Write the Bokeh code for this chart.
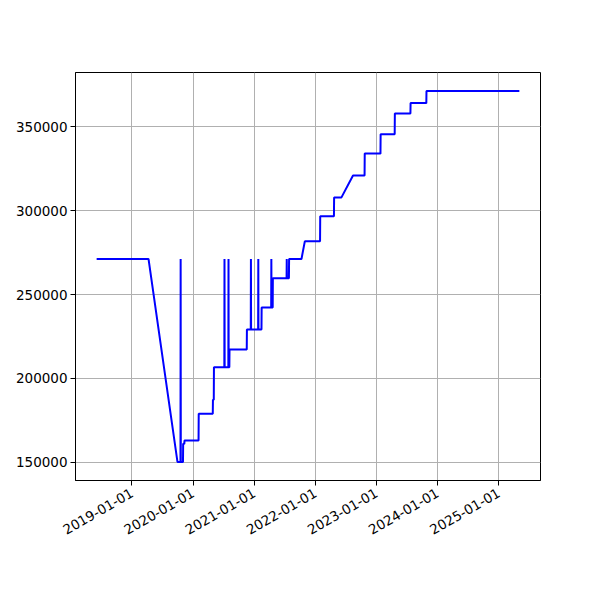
import math
import pandas as pd
from bokeh.plotting import figure
from bokeh.models import Range1d, FixedTicker, DatetimeTickFormatter, BasicTickFormatter, ColumnDataSource
from bokeh.embed import file_html
from bokeh.resources import INLINE

# ---- data ----
dates = [
    "2018-06-04", "2019-04-10", "2019-09-30", "2019-10-18", "2019-10-19", "2019-10-20",
    "2019-11-02", "2019-11-03", "2019-11-10", "2019-11-11", "2020-02-03", "2020-02-04",
    "2020-04-28", "2020-04-29", "2020-05-04", "2020-05-05", "2020-07-06", "2020-07-07",
    "2020-07-08", "2020-07-30", "2020-07-31", "2020-08-01", "2020-08-05", "2020-08-06",
    "2020-11-17", "2020-11-18", "2020-12-11", "2020-12-12", "2020-12-13", "2021-01-24",
    "2021-01-25", "2021-01-26", "2021-02-13", "2021-02-14", "2021-04-12", "2021-04-13",
    "2021-04-14", "2021-04-21", "2021-04-22", "2021-07-13", "2021-07-14", "2021-07-15",
    "2021-07-27", "2021-07-28", "2021-10-10", "2021-10-30", "2022-01-29", "2022-01-30",
    "2022-04-22", "2022-04-23", "2022-06-06", "2022-08-14", "2022-10-22", "2022-10-23",
    "2023-01-25", "2023-01-26", "2023-04-20", "2023-04-21", "2023-07-23", "2023-07-24",
    "2023-10-26", "2023-10-27", "2025-05-04",
]
values = [
    271200, 271200, 150200, 150200, 271200, 150200,
    150200, 161000, 161000, 163000, 163000, 179000,
    179000, 187300, 187300, 206700, 206700, 271200,
    206700, 206700, 271200, 206700, 206700, 217300,
    217300, 229200, 229200, 271200, 229200, 229200,
    271200, 229200, 229200, 242200, 242200, 271200,
    242200, 242200, 259700, 259700, 271200, 259700,
    259700, 271200, 271200, 281700, 281700, 296600,
    296600, 307900, 307900, 321000, 321000, 334000,
    334000, 345600, 345600, 357900, 357900, 364100,
    364100, 371300, 371300,
]
x_tick_labels = ["2019-01-01", "2020-01-01", "2021-01-01", "2022-01-01",
                 "2023-01-01", "2024-01-01", "2025-01-01"]
y_ticks = [150000, 200000, 250000, 300000, 350000]

x = pd.to_datetime(dates)
source = ColumnDataSource(dict(x=x, y=values))

xmin, xmax = x.min(), x.max()
xpad = (xmax - xmin) * 0.05
ymin, ymax = min(values), max(values)
ypad = (ymax - ymin) * 0.05

p = figure(
    width=584, height=584,
    x_axis_type="datetime",
    x_range=Range1d(xmin - xpad, xmax + xpad),
    y_range=Range1d(ymin - ypad, ymax + ypad),
    output_backend="svg", toolbar_location=None,
    min_border_left=75, min_border_right=44, min_border_top=72, min_border_bottom=104,
    background_fill_color="white", border_fill_color="white",
)

p.line("x", "y", source=source, line_color="#0000ff", line_width=2)

tick_ms = [pd.Timestamp(t).value / 1e6 for t in x_tick_labels]
p.xaxis.ticker = FixedTicker(ticks=tick_ms)
fmt = "%Y-%m-%d"
p.xaxis.formatter = DatetimeTickFormatter(
    microseconds=fmt, milliseconds=fmt, seconds=fmt, minsec=fmt, minutes=fmt,
    hourmin=fmt, hours=fmt, days=fmt, months=fmt, years=fmt)
p.xaxis.major_label_orientation = math.pi / 6

p.yaxis.ticker = FixedTicker(ticks=y_ticks)
p.yaxis.formatter = BasicTickFormatter(use_scientific=False)

for ax in (p.xaxis, p.yaxis):
    ax.major_label_text_font = "DejaVu Sans"
    ax.major_label_text_font_size = "13.5px"
    ax.major_label_text_color = "black"
    ax.axis_line_color = "black"
    ax.axis_line_width = 1
    ax.major_tick_line_color = "black"
    ax.major_tick_line_width = 1
    ax.major_tick_out = 5
    ax.major_tick_in = 0
    ax.minor_tick_line_color = None
    ax.major_label_standoff = 3
p.xaxis.major_label_standoff = 6

p.grid.grid_line_color = "#b0b0b0"
p.grid.grid_line_width = 1
p.outline_line_color = "black"
p.outline_line_width = 1
p.outline_line_alpha = 1

open("out.html", "w").write(file_html(p, INLINE))
